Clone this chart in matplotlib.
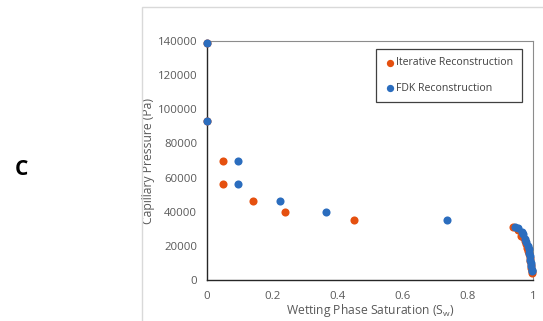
import matplotlib
matplotlib.use("Agg")
import matplotlib.pyplot as plt
from matplotlib.patches import Rectangle

# data
iter_sw = [0.0, 0.0, 0.05, 0.05, 0.14, 0.24, 0.45,
           0.94, 0.955, 0.963, 0.97, 0.975, 0.98, 0.983, 0.986, 0.988,
           0.99, 0.992, 0.993, 0.995, 0.996, 0.997]
iter_pc = [139000, 93000, 70000, 56000, 46500, 40000, 35000,
           31000, 29000, 26000, 25000, 23000, 21000, 19000, 17000, 15000,
           13000, 11000, 9000, 7000, 5000, 4000]

fdk_sw = [0.0, 0.0, 0.095, 0.095, 0.223, 0.366, 0.737,
          0.945, 0.955, 0.965, 0.97, 0.975, 0.98, 0.985, 0.987, 0.989,
          0.99, 0.992, 0.993, 0.995, 0.996, 0.997]
fdk_pc = [139000, 93000, 70000, 56000, 46500, 40000, 35000,
          31000, 30500, 28000, 27000, 24000, 22000, 20000, 18000, 16000,
          14000, 12000, 10000, 8000, 6000, 5000]

orange = '#E5500F'
blue = '#2B6DBE'
txt = '#595959'

plt.rcParams['font.family'] = ['Open Sans', 'DejaVu Sans']

fig = plt.figure(figsize=(5.43, 3.21), dpi=100)
ax = fig.add_axes([207 / 543, 1 - 280 / 321, 326 / 543, 239 / 321])

# outer chart frame
fig.patches.append(Rectangle((142 / 543, -0.1), 1.0, 1.1 - 7 / 321,
                             transform=fig.transFigure, fill=False,
                             edgecolor='#D9D9D9', linewidth=1.0))

ax.scatter(iter_sw, iter_pc, s=34, color=orange, label='Iterative Reconstruction',
           zorder=3, linewidths=0, clip_on=False)
ax.scatter(fdk_sw, fdk_pc, s=34, color=blue, label='FDK Reconstruction',
           zorder=4, linewidths=0, clip_on=False)

ax.set_xlim(0, 1)
ax.set_ylim(0, 140000)
ax.set_xticks([0, 0.2, 0.4, 0.6, 0.8, 1])
ax.set_xticklabels(['0', '0.2', '0.4', '0.6', '0.8', '1'])
ax.set_yticks(range(0, 140001, 20000))
ax.set_yticklabels([str(v) for v in range(0, 140001, 20000)])
ax.tick_params(length=0, labelsize=8.2, labelcolor=txt)
ax.tick_params(axis='x', pad=8)
ax.tick_params(axis='y', pad=7)

for s in ['left', 'bottom']:
    ax.spines[s].set_color('#262626')
    ax.spines[s].set_linewidth(1.0)
for s in ['top', 'right']:
    ax.spines[s].set_color('#8C8C8C')
    ax.spines[s].set_linewidth(0.8)

ax.set_xlabel('Wetting Phase Saturation (S$_\\mathregular{w}$)', fontsize=8.7, color=txt, labelpad=0)
ax.set_ylabel('Capillary Pressure (Pa)', fontsize=8.7, color=txt, labelpad=1.5)

leg = ax.legend(loc='upper right', bbox_to_anchor=(522 / 543, 1 - 49 / 321),
                bbox_transform=fig.transFigure, borderaxespad=0, fontsize=7.6,
                fancybox=False, edgecolor='#404040', framealpha=1,
                handletextpad=0.1, handlelength=1.0, borderpad=0.8,
                labelspacing=1.35, markerscale=0.9)
leg.get_frame().set_linewidth(0.9)
for t in leg.get_texts():
    t.set_color('#404040')

fig.text(21 / 543, 1 - 170 / 321, 'C', fontsize=15, fontweight='bold',
         ha='center', va='center', color='black')

fig.savefig('out.png', dpi=100)
